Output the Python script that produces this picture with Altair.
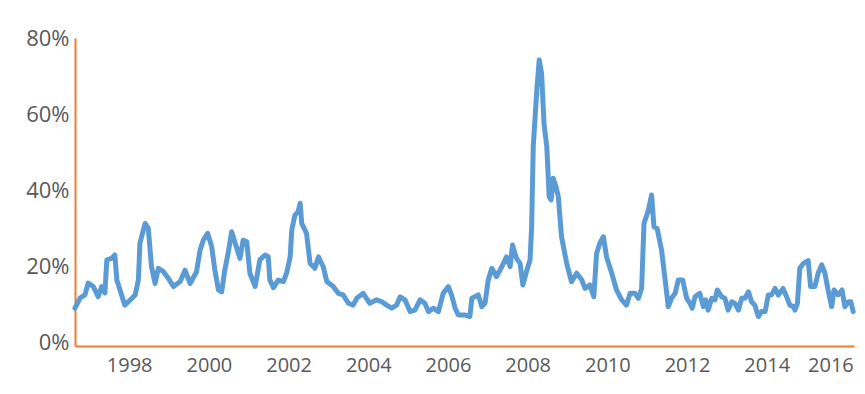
import altair as alt
import pandas as pd

years = [
    1996.64, 1996.77, 1996.89, 1996.97, 1997.10, 1997.22, 1997.31, 1997.39, 1997.44, 1997.56,
    1997.64, 1997.69, 1997.77, 1997.89, 1998.02, 1998.15, 1998.23, 1998.27, 1998.40, 1998.48,
    1998.56, 1998.65, 1998.73, 1998.86, 1998.98, 1999.11, 1999.28, 1999.40, 1999.53, 1999.69,
    1999.78, 1999.86, 1999.97, 2000.07, 2000.15, 2000.24, 2000.32, 2000.40, 2000.49, 2000.57,
    2000.66, 2000.78, 2000.86, 2000.95, 2001.03, 2001.16, 2001.28, 2001.41, 2001.49, 2001.53,
    2001.62, 2001.74, 2001.87, 2001.95, 2002.04, 2002.08, 2002.16, 2002.24, 2002.29, 2002.33,
    2002.45, 2002.54, 2002.66, 2002.75, 2002.87, 2002.96, 2003.12, 2003.25, 2003.37, 2003.50,
    2003.62, 2003.71, 2003.87, 2004.04, 2004.21, 2004.34, 2004.46, 2004.59, 2004.71, 2004.80,
    2004.92, 2005.05, 2005.17, 2005.30, 2005.42, 2005.51, 2005.63, 2005.76, 2005.88, 2006.01,
    2006.09, 2006.18, 2006.26, 2006.43, 2006.55, 2006.60, 2006.76, 2006.85, 2006.93, 2007.01,
    2007.10, 2007.22, 2007.35, 2007.47, 2007.56, 2007.62, 2007.72, 2007.81, 2007.88, 2007.98,
    2008.06, 2008.10, 2008.14, 2008.23, 2008.29, 2008.35, 2008.41, 2008.48, 2008.54, 2008.59,
    2008.64, 2008.71, 2008.77, 2008.85, 2008.98, 2009.10, 2009.23, 2009.36, 2009.44, 2009.56,
    2009.66, 2009.73, 2009.81, 2009.90, 2009.98, 2010.11, 2010.23, 2010.36, 2010.48, 2010.57,
    2010.69, 2010.78, 2010.86, 2010.92, 2011.03, 2011.11, 2011.17, 2011.25, 2011.36, 2011.45,
    2011.53, 2011.61, 2011.70, 2011.78, 2011.89, 2011.99, 2012.07, 2012.13, 2012.20, 2012.32,
    2012.41, 2012.47, 2012.53, 2012.62, 2012.70, 2012.76, 2012.87, 2012.95, 2013.03, 2013.12,
    2013.20, 2013.29, 2013.37, 2013.45, 2013.54, 2013.62, 2013.70, 2013.79, 2013.87, 2013.96,
    2014.04, 2014.12, 2014.21, 2014.29, 2014.41, 2014.50, 2014.58, 2014.67, 2014.71, 2014.77,
    2014.83, 2014.92, 2015.04, 2015.10, 2015.21, 2015.29, 2015.38, 2015.46, 2015.54, 2015.63,
    2015.69, 2015.79, 2015.89, 2015.96, 2016.05, 2016.11, 2016.17,
]

values = [
    8.9, 11.6, 12.4, 15.5, 14.6, 11.9, 14.6, 12.9, 21.6, 22.0,
    22.9, 16.3, 13.7, 9.7, 11.0, 12.4, 16.3, 26.0, 31.2, 29.9,
    19.8, 15.4, 19.4, 18.5, 16.8, 14.6, 15.9, 18.9, 15.4, 18.5,
    24.2, 26.8, 28.6, 25.1, 18.9, 13.7, 13.2, 18.9, 23.8, 29.0,
    26.0, 22.0, 26.8, 26.4, 18.1, 14.6, 21.6, 22.9, 22.4, 16.3,
    14.3, 16.3, 15.9, 18.1, 22.4, 29.5, 33.4, 34.3, 36.5, 31.2,
    28.6, 20.7, 19.4, 22.4, 19.8, 15.9, 14.6, 12.8, 12.4, 10.2,
    9.7, 11.5, 12.8, 10.2, 11.1, 10.6, 9.7, 8.9, 9.7, 11.9,
    11.1, 8.0, 8.4, 11.1, 10.2, 8.0, 8.9, 8.0, 12.8, 14.6,
    12.4, 8.9, 7.1, 7.1, 6.7, 11.5, 12.4, 9.3, 10.2, 16.3,
    19.4, 17.2, 19.8, 22.4, 19.8, 25.5, 22.0, 20.7, 15.0, 18.9,
    21.6, 30.3, 51.4, 66.3, 74.2, 70.7, 57.5, 51.4, 38.2, 37.4,
    43.1, 40.9, 38.2, 27.7, 20.7, 15.9, 18.1, 16.3, 14.1, 15.0,
    11.9, 23.3, 26.0, 27.7, 22.4, 18.1, 13.7, 11.1, 9.7, 12.8,
    12.8, 11.5, 14.1, 31.2, 34.7, 38.7, 30.3, 29.9, 24.2, 16.3,
    9.3, 11.5, 12.8, 16.3, 16.3, 11.5, 10.2, 8.9, 11.9, 12.8,
    9.3, 11.1, 8.4, 11.5, 11.1, 13.7, 11.9, 11.5, 8.4, 10.6,
    10.2, 8.4, 11.5, 11.5, 13.2, 10.6, 9.7, 6.7, 8.0, 8.0,
    12.4, 12.4, 14.1, 12.4, 14.1, 11.9, 9.7, 9.3, 8.4, 10.2,
    19.4, 20.7, 21.4, 14.6, 14.6, 18.1, 20.3, 18.1, 13.7, 9.3,
    13.7, 12.4, 13.7, 9.3, 10.6, 10.6, 8.0,
]

year_ticks = [1998, 2000, 2002, 2004, 2006, 2008, 2010, 2012, 2014, 2016]
pct_ticks = [0, 20, 40, 60, 80]

df = pd.DataFrame({"year": years, "value": values})

LINE = "#5b9bd5"
AXIS = "#ed7d31"
TEXT = "#595959"
FONT = "Open Sans"

chart = (
    alt.Chart(df)
    .mark_line(color=LINE, strokeWidth=5, strokeJoin="round", strokeCap="round")
    .encode(
        x=alt.X(
            "year:Q",
            scale=alt.Scale(domain=[1996.64, 2016.19], nice=False, zero=False),
            axis=alt.Axis(
                values=year_ticks,
                title=None,
                grid=False,
                ticks=False,
                domainColor=AXIS,
                domainWidth=2,
                labelColor=TEXT,
                labelFont=FONT,
                labelFontSize=20,
                labelPadding=9,
                labelExpr="toString(datum.value)",
                labelOffset={"condition": {"test": "datum.value == 2016", "value": -16}, "value": 0},
                labelFlush=False,
            ),
        ),
        y=alt.Y(
            "value:Q",
            scale=alt.Scale(domain=[-1.05, 80], nice=False, zero=False),
            axis=alt.Axis(
                values=pct_ticks,
                title=None,
                grid=False,
                ticks=False,
                domainColor=AXIS,
                domainWidth=2,
                labelColor=TEXT,
                labelFont=FONT,
                labelFontSize=22,
                labelPadding=6,
                labelExpr="datum.value + '%'",
            ),
        ),
    )
    .properties(
        width=779,
        height=308,
        autosize=alt.AutoSizeParams(type="none"),
        padding={"left": 75, "top": 38, "right": 11, "bottom": 48},
        background="white",
    )
    .configure_view(stroke=None)
)

chart.save("out.html", embed_options={"renderer": "svg", "actions": False})
